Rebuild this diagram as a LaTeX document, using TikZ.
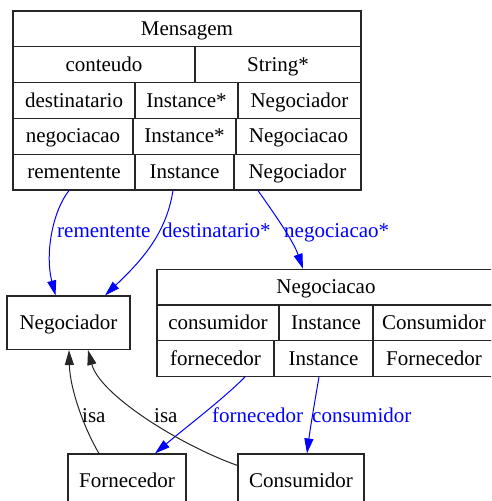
\documentclass[tikz,border=0pt]{standalone}
\usepackage{fontspec}
\setmainfont{Liberation Serif}
\usetikzlibrary{arrows.meta}
\tikzset{
  cell/.style={draw=black!85, line width=1.1pt, inner sep=0pt, text height=14pt, text depth=1pt, font=\fontsize{21}{25}\selectfont},
  box/.style={cell},
  lbl/.style={inner sep=0pt, anchor=base west, font=\fontsize{21}{25}\selectfont},
  blab/.style={lbl, text=blue},
  bedge/.style={draw=blue, line width=1pt, -{Triangle[length=15pt,width=9pt]}},
  kedge/.style={draw=black!85, line width=1pt, -{Triangle[length=15pt,width=9pt]}}
}
\begin{document}
\begin{tikzpicture}[x=1pt,y=-1pt]
\path[use as bounding box] (0,0) rectangle (491,501);
\clip (0,0) rectangle (491,501);
% Mensagem record
\node[cell, minimum width=348pt, minimum height=35.8pt] (mtit) at (187,28.9) {Mensagem};
\node[cell, minimum width=182pt, minimum height=35.8pt] (mcon) at (104,64.7) {conteudo};
\node[cell, minimum width=166pt, minimum height=35.8pt] (mstr) at (278,64.7) {String*};
\node[cell, minimum width=122pt, minimum height=35.8pt] (mdes) at (74,100.5) {destinatario};
\node[cell, minimum width=103pt, minimum height=35.8pt] (mdi) at (186.5,100.5) {Instance*};
\node[cell, minimum width=123pt, minimum height=35.8pt] (mdn) at (299.5,100.5) {Negociador};
\node[cell, minimum width=120pt, minimum height=35.8pt] (mneg) at (73,136.3) {negociacao};
\node[cell, minimum width=103pt, minimum height=35.8pt] (mni) at (184.5,136.3) {Instance*};
\node[cell, minimum width=125pt, minimum height=35.8pt] (mnn) at (298.5,136.3) {Negociacao};
\node[cell, minimum width=122pt, minimum height=35.8pt] (mrem) at (74,172.1) {rementente};
\node[cell, minimum width=99pt, minimum height=35.8pt] (mri) at (184.5,172.1) {Instance};
\node[cell, minimum width=127pt, minimum height=35.8pt] (mrn) at (297.5,172.1) {Negociador};
% Negociacao record
\node[cell, minimum width=338pt, minimum height=35.7pt] (ntit) at (326,287.15) {Negociacao};
\node[cell, minimum width=122pt, minimum height=35.7pt] (ncon) at (218,322.85) {consumidor};
\node[cell, minimum width=94pt, minimum height=35.7pt] (nci) at (326,322.85) {Instance};
\node[cell, minimum width=122pt, minimum height=35.7pt] (ncc) at (434,322.85) {Consumidor};
\node[cell, minimum width=117pt, minimum height=35.7pt] (nfor) at (215.5,358.55) {fornecedor};
\node[cell, minimum width=99pt, minimum height=35.7pt] (nfi) at (323.5,358.55) {Instance};
\node[cell, minimum width=122pt, minimum height=35.7pt] (nff) at (434,358.55) {Fornecedor};
% simple nodes
\node[box, minimum width=123pt, minimum height=53.5pt] (neg) at (68.5,322.75) {Negociador};
\node[box, minimum width=118pt, minimum height=54pt] (forn) at (127,481) {Fornecedor};
\node[box, minimum width=126pt, minimum height=54pt] (cons) at (301,481) {Consumidor};
% blue edges
\draw[bedge] ([xshift=-5pt]mrem.south) .. controls (52,212) and (45,255) .. ([xshift=-13pt]neg.north);
\draw[bedge] ([xshift=-11.5pt]mri.south) .. controls (166,235) and (140,262) .. ([xshift=36.5pt]neg.north);
\draw[bedge] ([xshift=-39.5pt]mrn.south) .. controls (273,212) and (293,240) .. ([xshift=-23pt]ntit.north);
\draw[bedge] ([xshift=29.5pt]nfor.south) .. controls (222,400) and (185,428) .. ([xshift=28pt]forn.north);
\draw[bedge] ([xshift=-4.5pt]nfi.south) .. controls (315,400) and (310,430) .. ([xshift=6pt]cons.north);
% black edges
\draw[kedge] ([xshift=-28pt]forn.north) .. controls (85,430) and (70,390) .. ([xshift=0.5pt]neg.south);
\draw[kedge] ([yshift=-12pt]cons.north west) .. controls (180,445) and (100,395) .. ([xshift=19.5pt]neg.south);
% labels
\node[blab] (l1) at (57,237) {rementente};
\node[blab] (l2) at (162,237) {destinatario*};
\node[blab] (l3) at (284,237) {negociacao*};
\node[blab] (l4) at (212,422) {fornecedor};
\node[blab] (l5) at (312,422) {consumidor};
\node[lbl] (l6) at (82,422) {isa};
\node[lbl] (l7) at (154,422) {isa};
\end{tikzpicture}
\end{document}
